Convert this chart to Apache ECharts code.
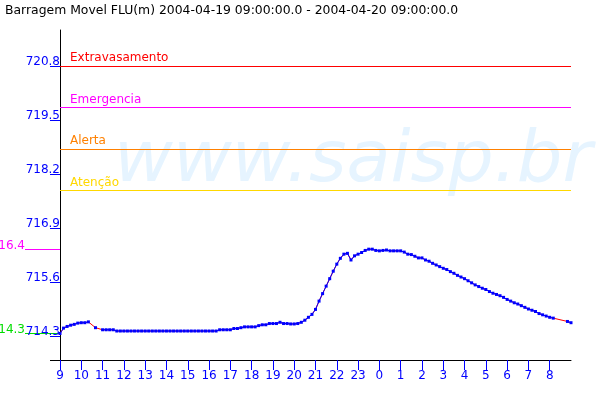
<!DOCTYPE html>
<html><head><meta charset="utf-8">
<script src="https://cdn.jsdelivr.net/npm/echarts@6/dist/echarts.min.js"></script>
<style>html,body{margin:0;padding:0;background:#fff}#c{width:600px;height:400px}</style>
</head><body><div id="c"></div>
<script>
// ---- data ----
const titleText = 'Barragem Movel FLU(m) 2004-04-19 09:00:00.0 - 2004-04-20 09:00:00.0';
const stepMinutes = 10; // sampling interval of the level series, starting 2004-04-19 09:00
const levels = [
  714.36, 714.49, 714.53, 714.56, 714.58, 714.61, 714.62, 714.62, 714.64, null,
  714.50, null,   714.45, 714.45, 714.45, 714.45, 714.42, 714.42, 714.42, 714.42,
  714.42, 714.42, 714.42, 714.42, 714.42, 714.42, 714.42, 714.42, 714.42, 714.42,
  714.42, 714.42, 714.42, 714.42, 714.42, 714.42, 714.42, 714.42, 714.42, 714.42,
  714.42, 714.42, 714.42, 714.42, 714.42, 714.45, 714.45, 714.45, 714.45, 714.48,
  714.48, 714.50, 714.52, 714.52, 714.52, 714.52, 714.55, 714.57, 714.57, 714.60,
  714.60, 714.60, 714.63, 714.60, 714.60, 714.59, 714.59, 714.60, 714.63, 714.68,
  714.75, 714.82, 714.94, 715.14, 715.32, 715.50, 715.68, 715.86, 716.03, 716.17,
  716.27, 716.29, 716.13, 716.23, 716.27, 716.31, 716.36, 716.39, 716.39, 716.36,
  716.35, 716.36, 716.37, 716.35, 716.35, 716.35, 716.35, 716.32, 716.27, 716.26,
  716.22, 716.18, 716.18, 716.13, 716.10, 716.05, 716.01, 715.97, 715.93, 715.90,
  715.85, 715.81, 715.76, 715.72, 715.68, 715.63, 715.58, 715.53, 715.49, 715.45,
  715.42, 715.37, 715.33, 715.30, 715.27, 715.23, 715.18, 715.14, 715.10, 715.07,
  715.03, 714.99, 714.95, 714.92, 714.89, 714.84, 714.81, 714.78, 714.75, 714.73,
  null,   null,   null,   714.65, 714.62
];
const xTickLabels = ['9','10','11','12','13','14','15','16','17','18','19','20','21','22','23','0','1','2','3','4','5','6','7','8'];
const yTickValues = [714.3, 715.6, 716.9, 718.2, 719.5, 720.8];
const thresholdNames = ['Extravasamento', 'Emergencia', 'Alerta', 'Atenção'];
const thresholdValues = [720.8, 719.8, 718.8, 717.8];
const extremeValues = [716.39, 714.365];
const extremeLabels = ['16.4', '14.3'];
const watermarkText = 'www.saisp.br';

// ---- styles ----
const thresholdColors = ['#ff0000', '#ff00ff', '#ff8000', '#ffd800'];
const extremeColors = ['#ff00ff', '#00dd00'];
const FONT = '"DejaVu Sans", sans-serif';
const BLUE = '#0000ff';

const points = levels.map((v, i) => [i * stepMinutes / 60, v]);

const chart = echarts.init(document.getElementById('c'), null, {renderer: 'canvas'});
const option = {
  animation: false,
  backgroundColor: '#fff',
  title: {text: titleText, left: 5, top: 5, padding: 0,
    textStyle: {fontFamily: FONT, fontSize: 12.4, fontWeight: 'normal', color: '#000'}},
  grid: {left: 60, right: 29, top: 30, bottom: 40},
  xAxis: {
    type: 'value', min: 0, max: 24,
    axisLine: {lineStyle: {color: '#000'}},
    axisTick: {customValues: xTickLabels.map((_, i) => i), length: 10, lineStyle: {color: BLUE}},
    axisLabel: {customValues: xTickLabels.map((_, i) => i), formatter: v => xTickLabels[Math.round(v)],
      color: BLUE, fontFamily: FONT, fontSize: 12, margin: 10},
    splitLine: {show: false}
  },
  yAxis: {
    type: 'value', min: 713.7222, max: 721.6667,
    axisLine: {show: true, lineStyle: {color: '#000'}},
    axisTick: {show: true, customValues: yTickValues, length: 10, lineStyle: {color: BLUE}},
    axisLabel: {customValues: yTickValues, formatter: v => v.toFixed(1), color: BLUE, fontFamily: FONT,
      fontSize: 12, margin: 0, verticalAlign: 'bottom', align: 'right', lineHeight: 9},
    splitLine: {show: false}
  },
  series: [
    {
      type: 'line', data: [], silent: true, z: 1,
      markLine: {
        silent: true, symbol: ['none', 'none'], animation: false,
        data: thresholdNames.map((n, i) => ({
          name: n, yAxis: thresholdValues[i],
          lineStyle: {color: thresholdColors[i], type: 'solid', width: 1},
          label: {show: true, position: 'insideStartTop', formatter: n, color: thresholdColors[i],
            fontFamily: FONT, fontSize: 12, distance: [10, 2]}
        }))
      }
    },
    {type: 'line', data: points, connectNulls: true, showSymbol: false, silent: true, z: 2,
      lineStyle: {color: '#ff0000', width: 1}},
    {type: 'line', data: points, connectNulls: false, symbol: 'rect', symbolSize: 3, z: 3,
      itemStyle: {color: BLUE, borderWidth: 0}, lineStyle: {color: BLUE, width: 1}}
  ]
};
chart.setOption(option);

// annotations positioned through the chart's own scales
const g = [];
const origin = chart.convertToPixel({gridIndex: 0}, [0, 713.7222]);
const topRight = chart.convertToPixel({gridIndex: 0}, [24, 721.6667]);
g.push({type: 'text', id: 'wm', z: -10, silent: true,
  x: origin[0] + 54, y: (origin[1] + topRight[1]) / 2 - 33,
  style: {text: watermarkText, font: 'italic 72px ' + FONT, fill: '#e6f4ff', verticalAlign: 'middle', align: 'left'}});
g.push({type: 'line', id: 'xext', silent: true,
  shape: {x1: origin[0] - 10, y1: Math.round(origin[1]) + 0.5, x2: origin[0], y2: Math.round(origin[1]) + 0.5},
  style: {stroke: '#000', lineWidth: 1}});
extremeValues.forEach((v, i) => {
  const p = chart.convertToPixel({gridIndex: 0}, [0, v]);
  const y = Math.round(p[1]) + 0.5;
  g.push({type: 'line', id: 'ext' + i, silent: true,
    shape: {x1: p[0] - 35, y1: y, x2: p[0], y2: y}, style: {stroke: extremeColors[i], lineWidth: 1}});
  g.push({type: 'text', id: 'extl' + i, silent: true, x: p[0] - 35, y: y + 2,
    style: {text: extremeLabels[i], font: '12px ' + FONT, fill: extremeColors[i], align: 'right', verticalAlign: 'bottom'}});
});
chart.setOption({graphic: g});
</script></body></html>
